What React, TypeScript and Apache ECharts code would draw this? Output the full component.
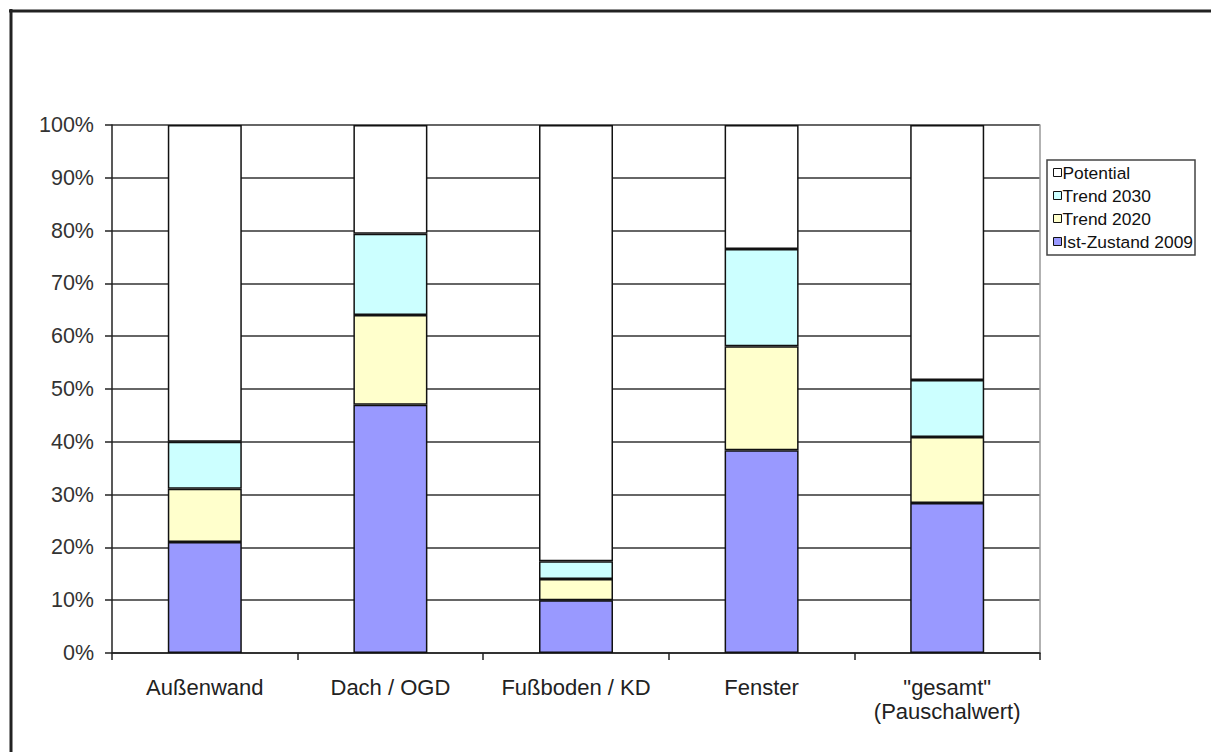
import React, { useEffect, useRef } from "react";
import * as echarts from "echarts";

const categories = ["Außenwand", "Dach / OGD", "Fußboden / KD", "Fenster", "\"gesamt\"\n(Pauschalwert)"];
const istZustand2009 = [21, 47, 10, 38.4, 28.4];
const trend2020 = [10.1, 17, 4, 19.7, 12.5];
const trend2030 = [8.9, 15.4, 3.4, 18.4, 10.8];
const potential = [60, 20.6, 82.6, 23.5, 48.3];
const yTicks = [0, 10, 20, 30, 40, 50, 60, 70, 80, 90, 100];

const FONT = "'Liberation Sans', Arial, sans-serif";

export default function App() {
  const ref = useRef<HTMLDivElement>(null);
  useEffect(() => {
    document.body.style.margin = "0";
    const chart = echarts.init(ref.current!, undefined, { renderer: "svg" });
    const mk = (name: string, data: number[], color: string) => ({
      name,
      type: "bar",
      stack: "total",
      data,
      barWidth: 74,
      itemStyle: { color, borderColor: "#111", borderWidth: 1.5 },
      emphasis: { disabled: true },
    });
    chart.setOption({
      animation: false,
      backgroundColor: "#fff",
      textStyle: { fontFamily: FONT },
      graphic: [
        { type: "line", shape: { x1: 9, y1: 11, x2: 1211, y2: 11 }, style: { stroke: "#222", lineWidth: 3 } },
        { type: "line", shape: { x1: 11, y1: 9, x2: 11, y2: 752 }, style: { stroke: "#222", lineWidth: 3 } },
      ],
      grid: { left: 112, right: 171, top: 125, bottom: 99 },
      legend: {
        orient: "vertical",
        left: 1047,
        top: 160,
        data: ["Potential", "Trend 2030", "Trend 2020", "Ist-Zustand 2009"],
        icon: "rect",
        itemWidth: 8,
        itemHeight: 8,
        itemGap: 6,
        padding: [4, 2, 5, 6],
        borderColor: "#444",
        borderWidth: 1.5,
        textStyle: { fontSize: 17.4, lineHeight: 17, color: "#111", fontFamily: FONT, padding: [0, 0, 0, -4] },
        itemStyle: { borderColor: "#111", borderWidth: 1 },
      },
      xAxis: {
        type: "category",
        data: categories,
        axisLine: { lineStyle: { color: "#222", width: 1.5 } },
        axisTick: { show: true, length: 7, interval: 0, alignWithLabel: false, lineStyle: { color: "#222", width: 1.5 } },
        axisLabel: { interval: 0, hideOverlap: false, fontSize: 22, color: "#222", margin: 22, lineHeight: 24, fontFamily: FONT },
      },
      yAxis: [
        {
          type: "value",
          min: 0,
          max: 100,
          interval: 10,
          axisLine: { show: true, lineStyle: { color: "#222", width: 1.5 } },
          axisTick: { show: true, length: 7, lineStyle: { color: "#222", width: 1.5 } },
          axisLabel: { formatter: (v: number) => (yTicks.includes(v) ? v + "%" : ""), fontSize: 21.5, color: "#333", margin: 18, fontFamily: FONT },
          splitLine: { show: true, lineStyle: { color: "#333", width: 1.5 } },
        },
        {
          type: "value",
          position: "right",
          min: 0,
          max: 100,
          interval: 10,
          axisLine: { show: true, lineStyle: { color: "#999", width: 1.5 } },
          axisTick: { show: false },
          axisLabel: { show: false },
          splitLine: { show: false },
        },
      ],
      series: [
        mk("Ist-Zustand 2009", istZustand2009, "#9999FF"),
        mk("Trend 2020", trend2020, "#FFFFCC"),
        mk("Trend 2030", trend2030, "#CCFFFF"),
        mk("Potential", potential, "#FFFFFF"),
      ],
    });
    return () => chart.dispose();
  }, []);
  return <div ref={ref} style={{ position: "absolute", left: 0, top: 0, width: 1211, height: 752 }} />;
}
